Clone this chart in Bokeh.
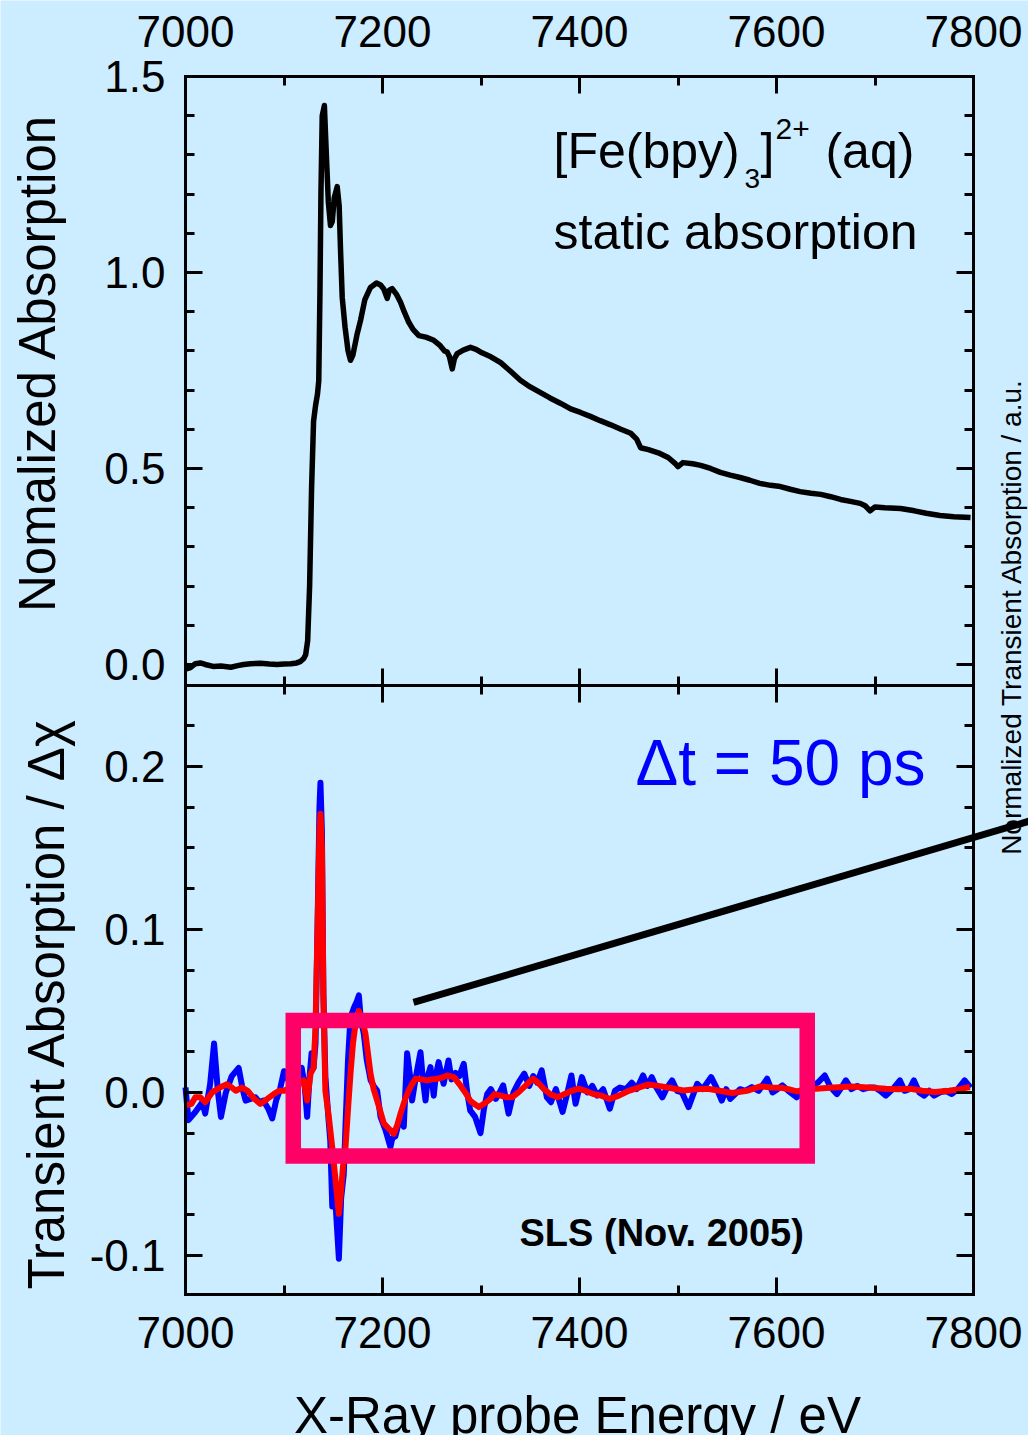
import numpy as np
from bokeh.plotting import figure
from bokeh.models import (Range1d, LinearAxis, FixedTicker, CustomJSTickFormatter,
                          NumeralTickFormatter, Label, BoxAnnotation)
from bokeh.embed import file_html
from bokeh.resources import INLINE

# ---------------- data ----------------
static_energy = [7000, 7005, 7010, 7015, 7020, 7028, 7036, 7046, 7053, 7059, 7066, 7076, 7085,
                 7093, 7100, 7107, 7113, 7117, 7120, 7122, 7124, 7126, 7128, 7130, 7132, 7134,
                 7135.3, 7136.5, 7137.5, 7138.8, 7141, 7143, 7145, 7147.2, 7149, 7151, 7154,
                 7156, 7157.5, 7159.1, 7162, 7165, 7167.5, 7170, 7174, 7177.7, 7182, 7187.8,
                 7193.9, 7198, 7201.3, 7204.8, 7207, 7209.8, 7214, 7218.3, 7222, 7226.7, 7231,
                 7236.9, 7244, 7252.1, 7258, 7263, 7265.7, 7268, 7270.8, 7273, 7275.8, 7282,
                 7289.3, 7295, 7301, 7310, 7320, 7330, 7340, 7350, 7360, 7370, 7381, 7391, 7401,
                 7411, 7421, 7431, 7442, 7452, 7458, 7462, 7470, 7480, 7490, 7497, 7500, 7505,
                 7515, 7523, 7533, 7543, 7553, 7563, 7573, 7583, 7594, 7604, 7614, 7624, 7635,
                 7645, 7655, 7665, 7675, 7685, 7690, 7695, 7700, 7710, 7726, 7740, 7752, 7766,
                 7780, 7797]
static_abs = [-0.012, -0.008, 0.002, 0.004, 0.000, -0.005, -0.004, -0.007, -0.003, 0.000, 0.002,
              0.003, 0.001, 0.000, 0.001, 0.002, 0.004, 0.008, 0.015, 0.025, 0.06, 0.20, 0.45,
              0.62, 0.66, 0.69, 0.724, 0.95, 1.20, 1.40, 1.426, 1.30, 1.18, 1.12, 1.13, 1.19,
              1.219, 1.17, 1.05, 0.937, 0.86, 0.80, 0.776, 0.79, 0.84, 0.878, 0.93, 0.962, 0.973,
              0.968, 0.958, 0.934, 0.955, 0.959, 0.945, 0.924, 0.90, 0.873, 0.855, 0.839, 0.835,
              0.827, 0.815, 0.800, 0.797, 0.785, 0.754, 0.78, 0.793, 0.802, 0.809, 0.804, 0.795,
              0.785, 0.770, 0.748, 0.725, 0.708, 0.694, 0.680, 0.666, 0.652, 0.643, 0.633, 0.622,
              0.612, 0.600, 0.590, 0.575, 0.553, 0.548, 0.540, 0.528, 0.513, 0.505, 0.515, 0.512,
              0.508, 0.500, 0.490, 0.483, 0.477, 0.470, 0.462, 0.457, 0.454, 0.447, 0.441, 0.437,
              0.434, 0.428, 0.421, 0.416, 0.411, 0.405, 0.392, 0.402, 0.400, 0.398, 0.392, 0.386,
              0.380, 0.377, 0.375]

raw_energy = [7000, 7003, 7010, 7017, 7020, 7025, 7029, 7033, 7036, 7041, 7047, 7054, 7058, 7061,
              7066, 7071, 7075, 7079, 7084, 7088, 7092, 7096, 7100, 7104, 7108, 7113, 7118, 7121,
              7123.5, 7126, 7128, 7130, 7132, 7134, 7136, 7137, 7138.5, 7140, 7142, 7145, 7147,
              7149, 7152, 7154, 7155.7, 7158, 7160.7, 7162.4, 7165, 7167.5, 7171, 7174, 7176,
              7178, 7181, 7184, 7188, 7191, 7194.6, 7198, 7203, 7208, 7210, 7213, 7218, 7221.6,
              7225, 7228, 7230, 7234, 7238.6, 7241, 7243.7, 7246, 7248.7, 7252, 7254, 7257, 7262,
              7267, 7270, 7274, 7278, 7282.5, 7286, 7289, 7294, 7299.5, 7303, 7306.3, 7310, 7315,
              7319, 7322.5, 7328, 7333, 7338, 7343.9, 7349, 7353, 7357, 7361.6, 7366.9, 7371,
              7376, 7382.8, 7387, 7391.8, 7396, 7402.4, 7408, 7413, 7418, 7424, 7430.8, 7436,
              7441, 7447, 7453, 7458, 7464.5, 7469, 7473.4, 7478, 7484.1, 7489, 7494, 7499, 7504,
              7510.7, 7515, 7519.5, 7525, 7533.7, 7539, 7544.4, 7549, 7553, 7558, 7563, 7568,
              7575, 7582, 7590.5, 7596, 7601, 7606, 7612, 7620.6, 7628, 7635, 7642, 7649, 7655,
              7661.4, 7666, 7670.4, 7676, 7682, 7688, 7694, 7700, 7705, 7711, 7718, 7725.3, 7730,
              7735, 7739.5, 7745, 7750, 7755, 7760, 7766, 7772, 7778, 7784, 7791, 7797]
raw_signal = [0.003, -0.017, -0.012, -0.006, -0.013, 0.005, 0.030, 0.000, -0.015, 0.000, 0.010,
              0.015, 0.002, -0.005, -0.004, -0.003, -0.006, -0.005, -0.010, -0.016, -0.005, 0.002,
              0.013, 0.008, 0.005, 0.012, 0.015, 0.004, -0.015, 0.010, 0.024, 0.015, 0.030, 0.100,
              0.175, 0.190, 0.160, 0.060, 0.010, -0.015, -0.030, -0.070, -0.065, -0.085, -0.102,
              -0.065, -0.050, -0.021, 0.020, 0.046, 0.052, 0.056, 0.0595, 0.045, 0.036, 0.020,
              0.0074, 0.004, 0.001, -0.015, -0.023, -0.0335, -0.028, -0.027, -0.015, -0.021, 0.024,
              0.010, -0.005, 0.010, 0.0247, 0.008, -0.005, 0.010, 0.0155, -0.002, 0.010, 0.0186,
              0.0053, 0.0196, 0.008, 0.012, 0.010, 0.0176, 0.000, -0.011, -0.015, -0.025, -0.010,
              -0.001, 0.002, -0.004, 0.000, 0.0043, -0.013, 0.000, 0.006, 0.0115, 0.004, 0.010,
              0.006, 0.0135, -0.003, -0.006, 0.002, -0.012, -0.002, 0.0104, -0.007, 0.0094, 0.000,
              0.004, -0.002, 0.002, -0.010, 0.001, 0.003, 0.002, 0.006, 0.002, 0.0104, 0.004,
              0.0094, 0.003, -0.003, 0.003, 0.0074, 0.001, 0.000, -0.009, -0.002, 0.0053, 0.002,
              0.0094, 0.003, -0.005, 0.002, -0.004, -0.001, 0.002, 0.001, 0.0033, 0.001, 0.0084,
              0.000, 0.002, 0.0043, 0.001, -0.003, 0.002, 0.004, 0.006, 0.0104, 0.003, -0.001,
              0.003, 0.0074, 0.002, 0.004, 0.002, 0.003, 0.003, 0.001, -0.002, 0.002, 0.0074,
              0.001, 0.002, 0.0074, 0.000, -0.002, 0.001, -0.002, 0.000, 0.001, -0.001, 0.002,
              0.0074, 0.003]

smooth_energy = [7000, 7006, 7010, 7015, 7020, 7027, 7035, 7042, 7047, 7051, 7057.5, 7063, 7070,
                 7076, 7083, 7089.6, 7095, 7100, 7106, 7112, 7117, 7120, 7123.5, 7127, 7130, 7132,
                 7134, 7136, 7137, 7138.5, 7140, 7142, 7145.5, 7149, 7152, 7155.7, 7158, 7160,
                 7162.4, 7165, 7167.5, 7170, 7172.6, 7176, 7179, 7182.7, 7185, 7187.8, 7191,
                 7194.6, 7198, 7201.3, 7206, 7211.5, 7215, 7218.3, 7222, 7225, 7229, 7233.5, 7240,
                 7245.4, 7250, 7255.5, 7260, 7265.7, 7272.4, 7279, 7284, 7289, 7293, 7297.8, 7303,
                 7309.6, 7313.7, 7320, 7326, 7331.5, 7338, 7345, 7352.7, 7358, 7364, 7370, 7377.6,
                 7385, 7392, 7398.9, 7406, 7414, 7422, 7430.8, 7440, 7450, 7460, 7469.9, 7480,
                 7490, 7505.3, 7518, 7530.2, 7542, 7555, 7570, 7583.4, 7595, 7604.7, 7612, 7620.6,
                 7630, 7640, 7658, 7675.6, 7693, 7711, 7724, 7736, 7748, 7760.8, 7775, 7786,
                 7796.3]
smooth_signal = [-0.008, -0.007, -0.003, -0.003, -0.006, 0.000, 0.003, 0.005, 0.003, 0.001, 0.003,
                 0.001, -0.004, -0.007, -0.004, -0.001, 0.001, 0.001, 0.003, 0.004, 0.006, 0.0074,
                 -0.005, 0.0115, 0.015, 0.040, 0.100, 0.160, 0.171, 0.150, 0.060, 0.001, -0.015,
                 -0.034, -0.052, -0.0745, -0.060, -0.045, -0.034, -0.010, 0.0115, 0.030, 0.042,
                 0.050, 0.045, 0.036, 0.025, 0.0115, 0.002, -0.005, -0.012, -0.019, -0.022, -0.0254,
                 -0.020, -0.013, -0.006, -0.001, 0.004, 0.0084, 0.0080, 0.0074, 0.008, 0.0084,
                 0.009, 0.0104, 0.0094, 0.0043, 0.000, -0.005, -0.007, -0.009, -0.007, -0.004,
                 -0.001, -0.002, -0.003, -0.003, 0.000, 0.004, 0.0084, 0.006, 0.002, -0.001,
                 -0.003, -0.001, 0.001, 0.0023, 0.001, -0.001, -0.002, -0.004, -0.002, 0.001,
                 0.003, 0.0049, 0.004, 0.003, 0.0012, 0.002, 0.0023, 0.001, -0.0004, 0.001,
                 0.0037, 0.003, 0.0029, 0.002, 0.0006, 0.002, 0.0023, 0.003, 0.0037, 0.003,
                 0.0023, 0.002, 0.0023, 0.001, 0.0002, 0.001, 0.002, 0.0033]

x_major = [7000, 7200, 7400, 7600, 7800]
x_minor = [7100, 7300, 7500, 7700]
top_major = [0.0, 0.5, 1.0, 1.5]
top_minor = [0.1, 0.2, 0.3, 0.4, 0.6, 0.7, 0.8, 0.9, 1.1, 1.2, 1.3, 1.4]
bot_major = [-0.1, 0.0, 0.1, 0.2]
bot_minor = [-0.075, -0.05, -0.025, 0.025, 0.05, 0.075, 0.125, 0.15, 0.175, 0.225]

# panel limits (data)
X0, X1 = 7000, 7800
T0, T1 = -0.0536, 1.5
B0, B1 = -0.124, 0.2497

# zoom box and pointer (bottom panel units)
box_x = (7109.4, 7631.2)
box_y = (-0.039, 0.0442)
pointer_x = [7231.5, 7900.0]
pointer_y = [0.0552, 0.1742]

# ---------------- layout geometry (pixels) ----------------
W, H = 1028, 1435
PX_L, PX_R = 185, 973          # left / right spines
PX_T, PX_M, PX_B = 76, 685, 1294  # top, middle divider, bottom

BG = "#ccecff"
FONT = "Liberation Sans"

xs = (X1 - X0) / (PX_R - PX_L)
x_range = Range1d(X0 - PX_L * xs, X0 + (W - PX_L) * xs)
bs = (B1 - B0) / (PX_B - PX_M)
bot_range = Range1d(B0 - (H - PX_B) * bs, B0 + PX_B * bs)
ts = (T1 - T0) / (PX_M - PX_T)
top_range = Range1d(T0 - (H - PX_M) * ts, T0 + PX_M * ts)

p = figure(width=W, height=H, output_backend="svg", toolbar_location=None,
           x_range=x_range, y_range=bot_range,
           x_axis_location=None, y_axis_location=None, min_border=0,
           background_fill_color=BG, border_fill_color=BG)
p.extra_y_ranges = {"top": top_range}
p.outline_line_color = None
p.title.visible = False
for g in p.grid:
    g.visible = False

blank = CustomJSTickFormatter(code="return '';")


def add_axis(side, ticks, minor, fixed, bounds, rng=None, standoff=0, labels=True,
             tick_out=0, minor_out=0, fmt=None):
    kw = {}
    if rng:
        kw["y_range_name"] = rng
    ax = LinearAxis(ticker=FixedTicker(ticks=ticks, minor_ticks=minor), fixed_location=fixed,
                    bounds=bounds, **kw)
    ax.axis_line_width = 3
    ax.axis_line_color = "black"
    ax.axis_line_cap = "square"
    ax.major_tick_line_width = 3
    ax.minor_tick_line_width = 3
    ax.major_tick_in = 17
    ax.major_tick_out = tick_out
    ax.minor_tick_in = 9
    ax.minor_tick_out = minor_out
    ax.major_label_text_font = FONT
    ax.major_label_text_font_size = "44px"
    ax.major_label_text_color = "black"
    ax.major_label_standoff = standoff
    if not labels:
        ax.formatter = blank
    elif fmt is not None:
        ax.formatter = fmt
    p.add_layout(ax, side)
    return ax


yfmt = NumeralTickFormatter(format="0.0")
# x axes: top, middle divider, bottom
add_axis("above", x_major, x_minor, T1, (X0, X1), rng="top", standoff=30)
add_axis("below", x_major[1:-1], x_minor, B1, (X0, X1), labels=False, tick_out=17, minor_out=9)
add_axis("below", x_major, x_minor, B0, (X0, X1), standoff=22)
# y axes: each panel on its own range
add_axis("left", top_major, top_minor, X0, (T0, T1), rng="top", standoff=20, fmt=yfmt)
add_axis("left", bot_major, bot_minor, X0, (B0, B1), standoff=20, fmt=yfmt)
add_axis("right", top_major, top_minor, X1, (T0, T1), rng="top", labels=False)
add_axis("right", bot_major, bot_minor, X1, (B0, B1), labels=False)

# data lines
p.line(static_energy, static_abs, y_range_name="top", line_color="black", line_width=5.5,
       line_join="round")
p.line(raw_energy, raw_signal, line_color="#0000ff", line_width=6, line_join="round")
p.line(smooth_energy, smooth_signal, line_color="#ff0000", line_width=6, line_join="round")

# zoom box and pointer
p.add_layout(BoxAnnotation(left=box_x[0], right=box_x[1], bottom=box_y[0], top=box_y[1],
                           fill_alpha=0, line_color="#ff0066", line_width=15.5, line_alpha=1,
                           line_join="miter"))
p.line(pointer_x, pointer_y, line_color="black", line_width=7)


def lab(x, y, text, size, rng=None, **kw):
    args = dict(x=x, y=y, text=text, text_font=FONT, text_font_size=size,
                text_baseline="alphabetic", text_align="left", text_color="black")
    args.update(kw)
    if rng:
        args["y_range_name"] = rng
    p.add_layout(Label(**args))


def clab(x, y, text, size, **kw):
    args = dict(x=x, y=y, x_units="canvas", y_units="canvas", text=text, text_font=FONT,
                text_font_size=size, text_baseline="alphabetic", text_align="center",
                text_color="black")
    args.update(kw)
    p.add_layout(Label(**args))


# top panel texts
lab(7373.6, 1.3087, "[Fe(bpy)", "50px", "top")
lab(7567.5, 1.2390, "3", "28px", "top")
lab(7583.8, 1.3087, "]", "50px", "top")
lab(7599.0, 1.3648, "2+", "30px", "top")
lab(7649.7, 1.3087, "(aq)", "50px", "top")
lab(7373.6, 1.1028, "static absorption", "50px", "top")

# bottom panel texts
lab(7456.9, 0.2021, "\u0394t = 50 ps", "64px", text_color="#0000ff")
lab(7339.1, -0.0865, "SLS  (Nov. 2005)", "38px", text_font_style="bold")

# axis titles
clab(37, 362, "Nomalized Absorption", "51px", angle=np.pi / 2)
clab(46, 1003, "Transient Absorption / \u0394\u03c7", "51px", angle=np.pi / 2)
clab(577, 1415, "X-Ray probe Energy / eV", "51px")
clab(1011, 616, "Normalized Transient Absorption / a.u.", "28px", angle=np.pi / 2)

open("out.html", "w").write(file_html(p, INLINE))
